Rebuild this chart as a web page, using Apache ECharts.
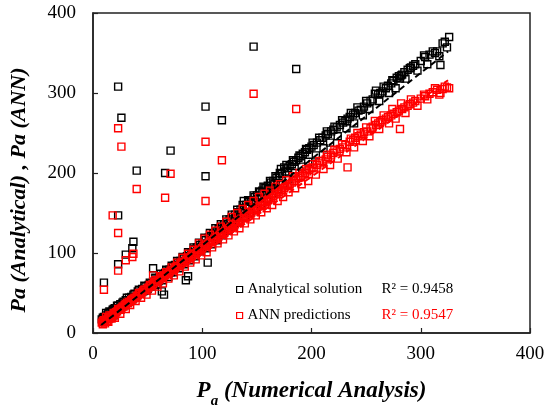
<!DOCTYPE html>
<html>
<head>
<meta charset="utf-8">
<script src="https://cdn.jsdelivr.net/npm/echarts@6/dist/echarts.min.js"></script>
<style>html,body{margin:0;padding:0;background:#fff}#c{width:554px;height:414px}</style>
</head>
<body>
<div id="c"></div>
<script>
// Numerical analysis (x) values
const numerical = [8,9,10,11,12,13,14,15,16,17,18,19,20,21,22,24,25,26,28,29,30,32,33,35,36,38,40,41,43,45,46,48,50,51,53,55,56,58,60,61,63,64,65,66,68,70,71,73,75,76,78,80,81,83,85,86,87,88,90,91,93,95,96,98,100,101,103,105,106,108,110,111,113,115,116,118,120,121,123,125,126,128,130,131,133,135,136,138,140,141,143,145,146,148,150,151,153,155,156,158,160,161,163,165,166,168,170,172,173,175,176,178,180,182,184,186,188,190,192,194,196,198,200,202,205,208,210,213,215,218,220,223,226,229,231,233,235,238,240,243,245,248,251,254,256,259,261,263,265,268,270,273,275,278,280,281,283,285,288,290,293,295,300,304,308,311,315,318,320,324,326,
  9,11,12,14,15,17,19,20,23,25,27,30,31,34,37,39,42,44,47,49,52,54,57,59,62,64,67,69,72,74,77,79,82,84,87,89,92,94,97,99,102,104,107,109,112,114,117,119,122,124,127,129,132,134,137,139,142,144,147,149,152,154,157,159,162,164,167,169,171,174,177,179,183,185,189,191,195,197,201,204,207,211,214,217,221,224,228,232,236,239,242,247,250,253,258,262,266,271,274,277,282,286,291,297,303,306,313,317,322,
  10,18,23,26,23,23,30,36,37,40,55,66,71,103,103,118,147,186];
// Analytical solution values
const analytical = [17,14,20,18,22,19,25,21,26,23,29,25,31,28,34,31,36,33,39,35,41,38,44,45,42,49,46,52,50,55,52,58,55,60,62,64,60,67,65,70,52,72,48,75,77,79,76,83,85,82,88,90,87,93,66,96,71,99,101,98,105,107,103,110,112,108,116,88,119,121,124,120,127,130,126,133,136,132,139,142,138,145,148,144,151,154,150,165,160,157,164,166,162,170,172,168,176,178,183,181,184,180,188,190,186,194,196,205,199,207,202,206,209,211,214,216,219,221,224,226,229,231,233,235,238,241,244,247,249,252,254,257,260,263,265,268,270,273,275,278,279,283,287,290,292,303,298,300,302,306,309,312,315,319,321,318,323,326,329,331,334,336,340,345,348,352,352,335,362,357,370,
  19,15,25,18,27,20,30,22,34,29,38,35,44,40,48,44,54,49,59,53,63,58,69,61,74,66,79,70,84,76,90,81,95,86,101,91,107,96,113,102,119,106,125,111,131,116,136,122,142,128,148,133,154,138,160,145,166,150,172,156,177,161,182,168,190,174,196,180,200,186,210,192,216,200,222,208,230,214,238,222,244,231,252,238,258,246,266,256,275,262,282,272,290,280,299,290,308,300,316,306,322,318,332,328,347,336,350,346,364,
  63,27,308,269,147,86,98,106,114,203,81,200,228,283,196,266,358,330];
// ANN prediction values
const ann = [13,11,16,14,17,15,19,18,20,22,21,24,23,26,27,29,30,31,33,35,36,37,39,41,42,44,46,47,49,51,53,54,56,57,59,61,63,64,66,67,69,70,72,72,74,76,78,79,81,83,84,86,88,89,91,92,94,94,96,98,99,101,103,104,106,108,109,111,113,114,116,118,119,121,123,124,126,128,129,131,133,134,136,138,139,141,143,144,146,148,149,151,153,154,156,158,159,161,163,164,166,168,169,171,173,174,176,178,179,181,183,184,186,188,190,192,194,196,198,200,202,204,206,207,210,212,215,217,220,222,225,227,230,232,235,207,239,241,244,246,248,251,252,256,258,260,262,264,266,268,270,272,274,276,278,255,280,282,284,286,288,290,293,296,299,301,304,300,305,307,306,
  15,12,20,14,22,18,25,19,30,24,33,30,38,35,43,40,50,44,54,48,60,53,66,58,71,62,76,68,82,72,88,77,94,83,99,88,104,92,112,97,118,101,123,107,128,112,133,117,139,122,145,127,150,131,155,137,160,142,165,147,170,151,174,156,178,160,183,165,186,170,191,176,196,181,200,186,205,190,211,198,215,205,223,210,229,218,236,226,243,232,250,240,257,246,265,255,272,262,280,268,287,275,292,284,298,292,306,298,308,
  54,147,256,233,125,78,91,95,99,180,72,169,199,239,165,216,299,280];
// Linear fit end points
const fitX = [7.5, 325];
const fitAnalytical = [10, 352];
const fitAnn = [9.6, 316];
const seriesNames = ['Analytical solution', 'ANN predictions'];
const r2Labels = ['R² = 0.9458', 'R² = 0.9547'];
const axisTicks = [0, 100, 200, 300, 400];

const pairs = (xs, ys) => xs.map((x, i) => [x, ys[i]]);
const font = 'Liberation Serif';
const chart = echarts.init(document.getElementById('c'), null, {renderer: 'canvas'});
const axisCommon = {
  min: axisTicks[0], max: axisTicks[axisTicks.length - 1], interval: axisTicks[1] - axisTicks[0],
  axisLine: {show: true, lineStyle: {color: '#222', width: 1.5}},
  axisTick: {show: true, inside: true, length: 5, lineStyle: {color: '#222', width: 1.2}},
  splitLine: {show: false},
  axisLabel: {color: '#000', fontFamily: font, fontSize: 19}
};
chart.setOption({
  animation: false,
  backgroundColor: '#fff',
  grid: {left: 92, right: 24, top: 13, bottom: 69, show: true, borderColor: '#222', borderWidth: 1.5, backgroundColor: 'transparent'},
  xAxis: Object.assign({}, axisCommon, {
    type: 'value',
    axisLabel: Object.assign({}, axisCommon.axisLabel, {margin: 12}),
    name: '{b|P}{s|a}{b| (Numerical Analysis)}',
    nameLocation: 'middle', nameGap: 46,
    nameTextStyle: {
      rich: {
        b: {fontFamily: font, fontSize: 23, fontWeight: 'bold', fontStyle: 'italic', color: '#000', verticalAlign: 'bottom', lineHeight: 24},
        s: {fontFamily: font, fontSize: 15, fontWeight: 'bold', fontStyle: 'italic', color: '#000', verticalAlign: 'bottom', lineHeight: 14, padding: [0, 0, -6, 0]}
      }
    }
  }),
  yAxis: Object.assign({}, axisCommon, {
    type: 'value',
    axisLabel: Object.assign({}, axisCommon.axisLabel, {margin: 17}),
    name: 'Pa (Analytical) , Pa (ANN)',
    nameLocation: 'middle', nameGap: 63,
    nameTextStyle: {fontFamily: font, fontSize: 22, fontWeight: 'bold', fontStyle: 'italic', color: '#000', padding: [0, 34, 0, 0]}
  }),
  legend: {
    orient: 'vertical', left: 231, top: 277, itemGap: 11, itemWidth: 6, itemHeight: 6,
    data: [
      {name: seriesNames[0], icon: 'rect', itemStyle: {color: '#fff', borderColor: '#000', borderWidth: 1.2}},
      {name: seriesNames[1], icon: 'rect', itemStyle: {color: '#fff', borderColor: '#ff0000', borderWidth: 1.2}}
    ],
    formatter: name => {
      const i = seriesNames.indexOf(name);
      return '{n|' + name + '}{' + (i === 0 ? 'rb' : 'rr') + '|' + r2Labels[i] + '}';
    },
    textStyle: {
      fontFamily: font, fontSize: 15, color: '#000',
      rich: {
        n: {fontFamily: font, fontSize: 15, color: '#000', width: 134},
        rb: {fontFamily: font, fontSize: 15, color: '#000'},
        rr: {fontFamily: font, fontSize: 15, color: '#ff0000'}
      }
    }
  },
  series: [
    {name: seriesNames[0], type: 'scatter', symbol: 'rect', symbolSize: 7,
     itemStyle: {color: 'rgba(0,0,0,0)', borderColor: '#000', borderWidth: 1.4, opacity: 1},
     data: pairs(numerical, analytical), z: 2},
    {name: seriesNames[1], type: 'scatter', symbol: 'rect', symbolSize: 7,
     itemStyle: {color: 'rgba(0,0,0,0)', borderColor: '#ff0000', borderWidth: 1.4, opacity: 1},
     data: pairs(numerical, ann), z: 3},
    {type: 'line', data: pairs(fitX, fitAnn), symbol: 'none', silent: true, z: 4,
     lineStyle: {color: '#ff0000', width: 2, type: [6, 4]}},
    {type: 'line', data: pairs(fitX, fitAnalytical), symbol: 'none', silent: true, z: 5,
     lineStyle: {color: '#000', width: 2, type: [6, 4]}}
  ]
});
</script>
</body>
</html>
